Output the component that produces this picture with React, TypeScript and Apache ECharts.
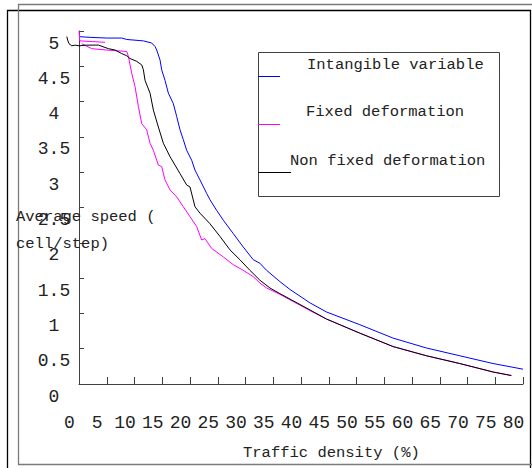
import React, { useEffect, useRef } from "react";
import * as echarts from "echarts";

const xTicks = { min: 0, max: 80, interval: 5 };
const yTicks = { min: 0, max: 5, interval: 0.5 };

const legendNames = ["Intangible variable", "Fixed deformation", "Non fixed deformation"];
const xTitle = "Traffic density (%)";
const yTitle1 = "Average speed (";
const yTitle2 = "cell/step)";

const intangible: [number, number][] = [
  [0, 4.92], [2, 4.91], [5, 4.9], [7.7, 4.9], [8.6, 4.88], [11.6, 4.86], [13.1, 4.83], [13.7, 4.78],
  [14.0, 4.73], [14.6, 4.59], [14.9, 4.45], [15.5, 4.3], [16.1, 4.12], [17.0, 3.97], [17.6, 3.79],
  [18.2, 3.6], [18.8, 3.46], [19.4, 3.31], [20.3, 3.17], [20.9, 3.03], [21.8, 2.89], [23.0, 2.7],
  [23.6, 2.61], [24.8, 2.46], [26.0, 2.32], [27.8, 2.13], [29.6, 1.94], [31.4, 1.76], [32.6, 1.71],
  [33.8, 1.61], [36.2, 1.45], [38.0, 1.34], [41.6, 1.15], [44.6, 1.02], [50.6, 0.84], [56.6, 0.65],
  [62.6, 0.51], [68.6, 0.4], [74.6, 0.29], [80, 0.21],
];

const fixedDeformation: (number | string)[][] = [
  [0, 5.0], [0.15, 4.86], [2.5, 4.85], [4.7, 4.84], [4.7, "-"],
  [0.5, 4.82], [2.3, 4.75], [5, 4.73], [8.6, 4.71], [8.9, 4.64], [9.5, 4.4], [10.1, 4.21],
  [10.7, 3.93], [11.3, 3.69], [12.2, 3.6], [12.8, 3.41], [13.4, 3.31], [14.3, 3.1], [14.9, 3.08],
  [15.5, 2.89], [16.4, 2.75], [17.6, 2.65], [18.8, 2.51], [20.0, 2.37], [21.2, 2.23], [22.1, 2.04],
  [22.7, 2.06], [23.9, 1.92], [26.0, 1.8], [27.8, 1.69], [29.6, 1.61], [31.4, 1.52], [32.6, 1.43],
  [33.8, 1.36], [36.2, 1.27], [41.6, 1.04], [44.6, 0.92], [50.6, 0.72], [56.6, 0.53], [62.6, 0.4],
  [68.6, 0.29], [74.6, 0.17], [77.9, 0.12],
];

// the part of the non-fixed curve left of the y axis (a small curl)
const nonFixedLead: [number, number][] = [
  [-2.2, 4.92], [-2.0, 4.86], [-1.8, 4.82], [-1.3, 4.79], [-0.7, 4.8], [0, 4.79],
];

const nonFixedDeformation: [number, number][] = [
  [0, 4.79], [1.4, 4.8], [3.5, 4.8],
  [5.3, 4.75], [6.5, 4.73], [7.7, 4.68], [8.6, 4.65], [9.2, 4.61], [10.4, 4.57], [11.3, 4.52],
  [11.6, 4.45], [11.9, 4.3], [12.8, 4.12], [13.4, 3.88], [14.3, 3.64], [15.2, 3.41], [16.4, 3.22],
  [18.2, 2.98], [19.4, 2.82], [20.0, 2.79], [20.9, 2.51], [21.8, 2.42], [23.6, 2.27], [25.4, 2.09],
  [27.2, 1.9], [29.0, 1.76], [30.8, 1.61], [32.6, 1.47], [34.4, 1.36], [36.2, 1.28], [41.6, 1.05],
  [44.6, 0.92], [50.6, 0.72], [56.6, 0.53], [62.6, 0.4], [68.6, 0.29], [74.6, 0.17], [77.9, 0.12],
];

const colors = ["#0000ff", "#ff00ff", "#000000"];
const FONT = "Liberation Mono";

export default function App() {
  const ref = useRef<HTMLDivElement>(null);
  useEffect(() => {
    if (!ref.current) return;
    const chart = echarts.init(ref.current, undefined, { renderer: "svg" });
    const axisLine = { show: true, lineStyle: { color: "#404040", width: 1 } };
    const mkSeries = (name: string, data: any[], color: string) => ({
      name,
      type: "line",
      data,
      showSymbol: false,
      symbol: "none",
      clip: false,
      connectNulls: false,
      lineStyle: { color, width: 1 },
      itemStyle: { color },
    });
    const txt = (text: string, x: number, y: number, z = 11) => ({
      type: "text",
      z,
      x,
      y,
      style: { text, fontFamily: FONT, fontSize: 15.5, fill: "#222", verticalAlign: "middle" },
    });
    const baseGraphic: any[] = [
      { type: "rect", z: -1, silent: true, shape: { x: 7.5, y: 10.5, width: 523, height: 470 }, style: { fill: "none", stroke: "#000", lineWidth: 1.3 } },
      { type: "rect", z: -1, silent: true, shape: { x: 18.5, y: 4.5, width: 520, height: 460 }, style: { fill: "none", stroke: "#7a7a7a", lineWidth: 1.3 } },
      { type: "rect", z: 10, shape: { x: 258.5, y: 52.5, width: 241, height: 144 }, style: { fill: "#fff", stroke: "#404040", lineWidth: 1 } },
      { type: "line", z: 11, shape: { x1: 258, y1: 76.5, x2: 280, y2: 76.5 }, style: { stroke: colors[0], lineWidth: 1 } },
      { type: "line", z: 11, shape: { x1: 258, y1: 124.5, x2: 280, y2: 124.5 }, style: { stroke: colors[1], lineWidth: 1 } },
      { type: "line", z: 11, shape: { x1: 258, y1: 172.5, x2: 291, y2: 172.5 }, style: { stroke: colors[2], lineWidth: 1 } },
      txt(legendNames[0], 307, 65),
      txt(legendNames[1], 306, 112),
      txt(legendNames[2], 290, 161),
      txt(yTitle1, 16, 217),
      txt(yTitle2, 16, 244),
      txt(xTitle, 243, 453),
    ];
    chart.setOption({
      animation: false,
      backgroundColor: "#ffffff",
      grid: { left: 79, right: 9, top: 31, bottom: 84, containLabel: false },
      xAxis: {
        type: "value",
        min: xTicks.min,
        max: xTicks.max,
        interval: xTicks.interval,
        axisLine,
        axisTick: { show: true, inside: true, length: 7, lineStyle: { color: "#404040" } },
        splitLine: { show: false },
        axisLabel: {
          fontFamily: FONT,
          fontSize: 18,
          color: "#222",
          margin: 30,
          align: "center",
          padding: [0, 19, 0, 0],
        },
      },
      yAxis: {
        type: "value",
        min: yTicks.min,
        max: yTicks.max,
        interval: yTicks.interval,
        axisLine,
        axisTick: { show: true, inside: true, length: 5, lineStyle: { color: "#404040" } },
        splitLine: { show: false },
        axisLabel: {
          fontFamily: FONT,
          fontSize: 18,
          color: "#222",
          margin: 25,
          align: "center",
          verticalAlign: "top",
          lineHeight: 25,
        },
      },
      series: [
        mkSeries(legendNames[0], intangible, colors[0]),
        mkSeries(legendNames[1], fixedDeformation, colors[1]),
        mkSeries(legendNames[2], nonFixedDeformation, colors[2]),
      ],
      graphic: baseGraphic,
    });
    // curl of the non-fixed curve left of the axis, placed through the chart's own scales
    const leadPts = nonFixedLead.map((p) => chart.convertToPixel({ gridIndex: 0 }, p) as number[]);
    chart.setOption({
      graphic: [
        ...baseGraphic,
        { type: "polyline", z: 5, shape: { points: leadPts }, style: { stroke: colors[2], lineWidth: 1, fill: "none" } },
      ],
    });
    return () => chart.dispose();
  }, []);
  return (
    <div
      ref={ref}
      style={{ position: "fixed", left: 0, top: 0, width: 532, height: 468, background: "#fff" }}
    />
  );
}
